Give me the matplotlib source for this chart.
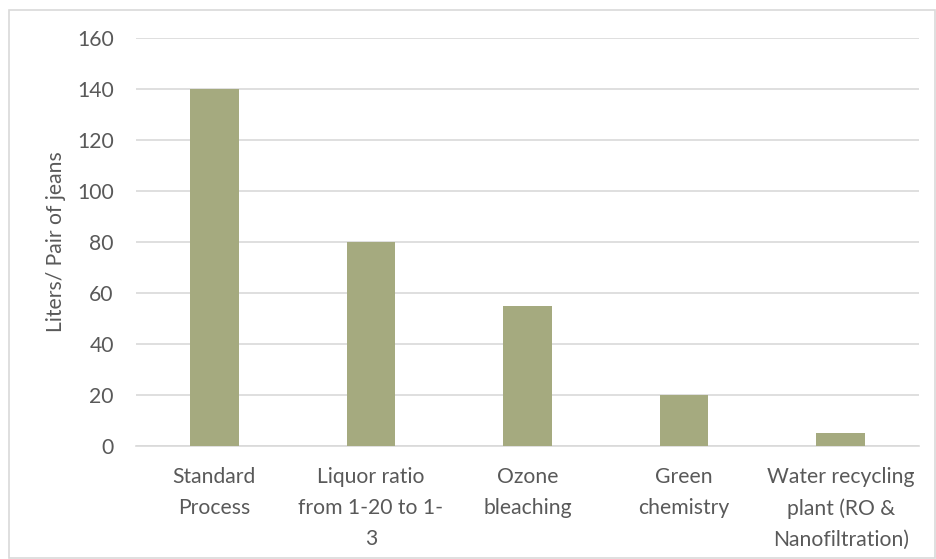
import matplotlib
matplotlib.use("Agg")
import matplotlib.pyplot as plt
from matplotlib.patches import Rectangle

categories = ["Standard\nProcess", "Liquor ratio\nfrom 1-20 to 1-\n3", "Ozone\nbleaching",
              "Green\nchemistry", "Water recycling\nplant (RO &\nNanofiltration)"]
values = [140, 80, 55, 20, 5]
yticks = [0, 20, 40, 60, 80, 100, 120, 140, 160]

plt.rcParams["font.family"] = ["Lato", "DejaVu Sans"]
text_color = "#595959"
grid_color = "#D9D9D9"
bar_color = "#A5AA7F"
fs = 15.2

fig = plt.figure(figsize=(9.36, 5.59), dpi=100)
# chart frame
fig.patches.append(Rectangle((9 / 936, 1 / 559), 926 / 936, 548 / 559, transform=fig.transFigure,
                             fill=False, edgecolor=grid_color, linewidth=1.2))

ax = fig.add_axes([136 / 936, 1 - 446 / 559, 783 / 936, 408 / 559])
x = list(range(len(categories)))
ax.bar(x, values, width=0.31, color=bar_color, zorder=3)
ax.set_xlim(-0.5, len(categories) - 0.5)
ax.set_ylim(0, 160)
ax.set_yticks(yticks)
ax.set_yticklabels([str(v) for v in yticks], fontsize=fs, color=text_color)
ax.set_xticks(x)
ax.set_xticklabels(categories, fontsize=fs, color=text_color, linespacing=1.68, va="top")
ax.tick_params(axis="both", length=0)
ax.tick_params(axis="x", pad=15)
ax.tick_params(axis="y", pad=16)
ax.grid(axis="y", color=grid_color, linewidth=1.2, zorder=0)
for side in ["top", "right", "left"]:
    ax.spines[side].set_visible(False)
ax.spines["bottom"].set_color(grid_color)
ax.spines["bottom"].set_linewidth(1.2)
ax.set_ylabel("Liters/ Pair of jeans", fontsize=fs, color=text_color, labelpad=8)

fig.savefig("out.png", dpi=100)
